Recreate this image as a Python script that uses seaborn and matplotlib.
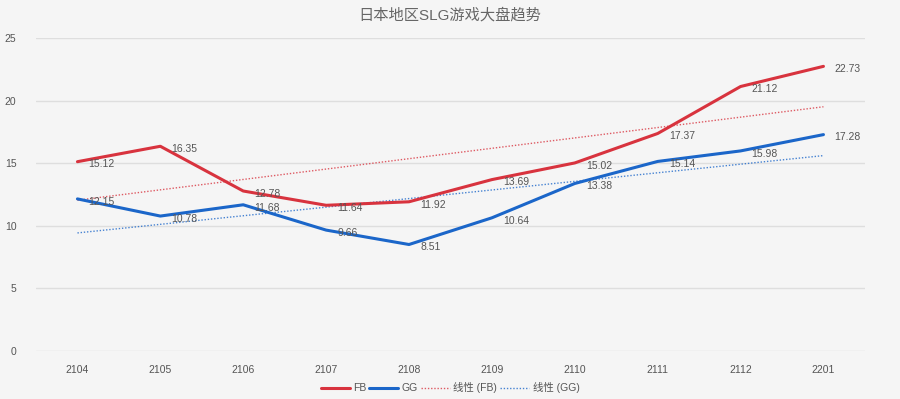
import numpy as np
import pandas as pd
import matplotlib
matplotlib.use("Agg")
import matplotlib.pyplot as plt
import seaborn as sns
from matplotlib.lines import Line2D

months = ["2104", "2105", "2106", "2107", "2108", "2109", "2110", "2111", "2112", "2201"]
fb = [15.12, 16.35, 12.78, 11.64, 11.92, 13.69, 15.02, 17.37, 21.12, 22.73]
gg = [12.15, 10.78, 11.68, 9.66, 8.51, 10.64, 13.38, 15.14, 15.98, 17.28]
title = "日本地区SLG游戏大盘趋势"

sns.set_theme(style="white")
plt.rcParams['font.family'] = ['Liberation Sans', 'Noto Sans CJK SC', 'DejaVu Sans']

RED = "#d8333e"
BLUE = "#1b66c9"
BG = "#f5f5f5"
TXT = "#555555"

df = pd.DataFrame({"idx": np.arange(len(months)), "month": months, "FB": fb, "GG": gg})

fig = plt.figure(figsize=(9.0, 3.99), dpi=100, facecolor=BG)
ax = fig.add_axes([0.04, 0.12, 0.921, 0.785])
ax.set_facecolor(BG)

dot = (0, (1, 1.3))
sns.regplot(data=df, x="idx", y="FB", scatter=False, ci=None, ax=ax, truncate=True,
            line_kws=dict(color=RED, lw=1.0, ls=dot, alpha=0.8))
sns.regplot(data=df, x="idx", y="GG", scatter=False, ci=None, ax=ax, truncate=True,
            line_kws=dict(color=BLUE, lw=1.0, ls=dot, alpha=0.8))
sns.lineplot(data=df, x="idx", y="FB", color=RED, lw=2.2, ax=ax)
sns.lineplot(data=df, x="idx", y="GG", color=BLUE, lw=2.2, ax=ax)

for i, (a, b) in enumerate(zip(fb, gg)):
    ax.annotate(f"{a:.2f}", (i, a), xytext=(8, -2), textcoords="offset points",
                ha="left", va="center", fontsize=7.5, color=TXT)
    ax.annotate(f"{b:.2f}", (i, b), xytext=(8, -2), textcoords="offset points",
                ha="left", va="center", fontsize=7.5, color=TXT)

ax.set_xlim(-0.5, len(months) - 0.5)
ax.set_ylim(0, 25)
ax.set_yticks([0, 5, 10, 15, 20, 25])
ax.set_xticks(np.arange(len(months)))
ax.set_xticklabels(months)
ax.tick_params(axis="both", labelsize=7.5, colors=TXT, length=0, pad=10)
ax.tick_params(axis="y", pad=14)
ax.grid(axis="y", color="#dedede", lw=1)
ax.set_axisbelow(True)
for s in ax.spines.values():
    s.set_visible(False)
ax.set_xlabel("")
ax.set_ylabel("")

fig.text(0.5, 0.962, title, ha="center", va="center", fontsize=11, color="#666666")

handles = [
    Line2D([], [], color=RED, lw=2.2),
    Line2D([], [], color=BLUE, lw=2.2),
    Line2D([], [], color=RED, lw=1.0, ls=dot, alpha=0.8),
    Line2D([], [], color=BLUE, lw=1.0, ls=dot, alpha=0.8),
]
labels = ["FB", "GG", "线性 (FB)", "线性 (GG)"]
fig.legend(handles, labels, loc="center", bbox_to_anchor=(0.5, 0.028), ncol=4,
           frameon=False, fontsize=7.5, labelcolor=TXT, handlelength=2.8,
           handletextpad=0.3, columnspacing=0.3)

fig.savefig("out.png", dpi=100, facecolor=BG)
